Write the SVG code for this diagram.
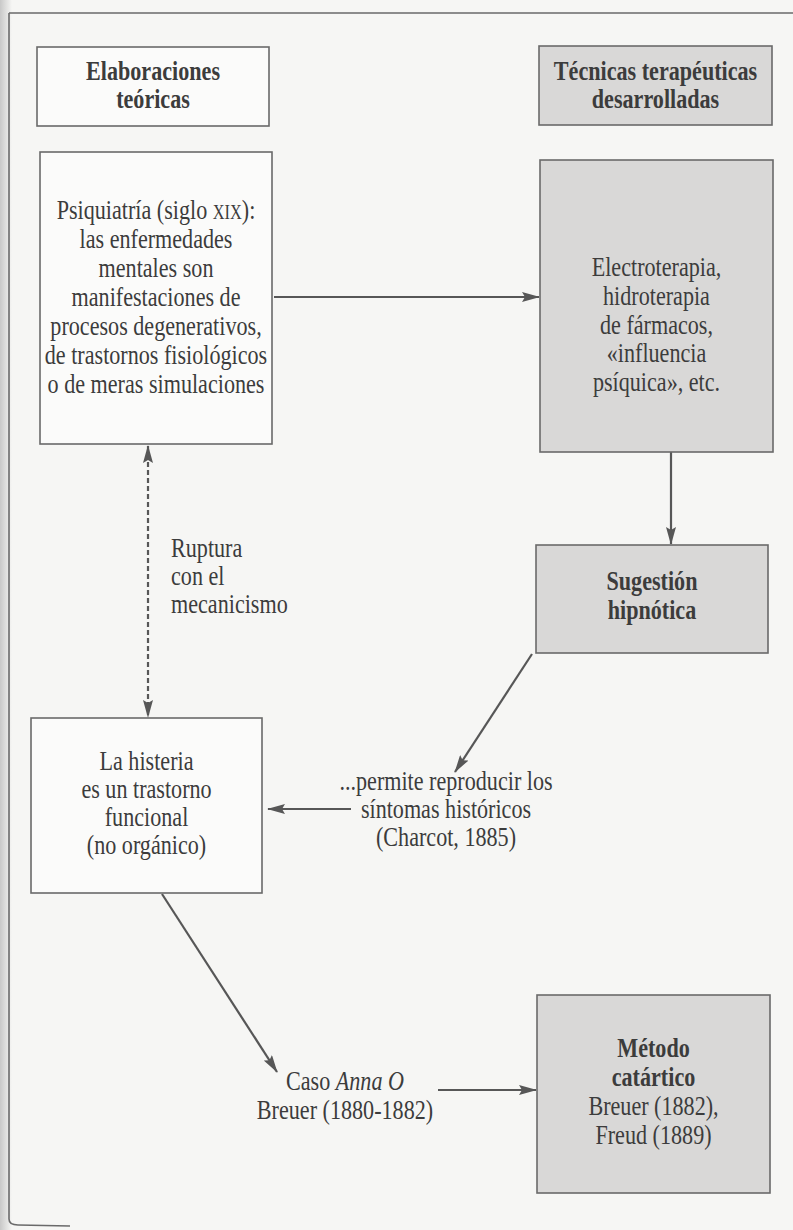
<svg xmlns="http://www.w3.org/2000/svg" width="793" height="1230" viewBox="0 0 793 1230">
<defs>
<style>
.bg{fill:#f6f6f4}
.box{fill:#fbfbfa;stroke:#6a6a6a;stroke-width:1.6}
.gbox{fill:#d9d8d7;stroke:#6a6a6a;stroke-width:1.6}
.t{font-family:"Liberation Serif","Times New Roman","DejaVu Serif",serif;font-size:27px;fill:#3c3c3c;text-anchor:middle}
.b{font-weight:bold}
.i{font-style:italic}
.l{text-anchor:start}
.c{stroke:#575757;stroke-width:2.2;fill:none}
.d{stroke-dasharray:5 3}
.frame{stroke:#6a6a6a;stroke-width:1.6;fill:none}
</style>
<marker id="ah" viewBox="0 0 18 10" refX="17" refY="5" markerWidth="18" markerHeight="10" markerUnits="userSpaceOnUse" orient="auto-start-reverse">
<path d="M0,0 L18,5 L0,10 L3,5 Z" fill="#575757"/>
</marker>
<linearGradient id="shade" x1="0" y1="0" x2="1" y2="0">
<stop offset="0" stop-color="#bdbdbd" stop-opacity="0.8"/>
<stop offset="1" stop-color="#bdbdbd" stop-opacity="0"/>
</linearGradient>
</defs>
<rect class="bg" x="0" y="0" width="793" height="1230"/>
<rect x="0" y="0" width="12" height="1230" fill="url(#shade)"/>
<path class="frame" d="M9,13 L793,13 M9,13 L9,1219 Q9,1225 18,1225 L70,1226"/>

<g id="connectors">
<line class="c" x1="274" y1="297" x2="539" y2="297" marker-end="url(#ah)"/>
<line class="c" x1="671" y1="452" x2="671" y2="544" marker-end="url(#ah)"/>
<line class="c d" x1="148" y1="446" x2="148" y2="717" marker-start="url(#ah)" marker-end="url(#ah)"/>
<line class="c" x1="532" y1="654" x2="455" y2="772" marker-end="url(#ah)"/>
<line class="c" x1="351" y1="809" x2="268" y2="809" marker-end="url(#ah)"/>
<line class="c" x1="162" y1="894" x2="277" y2="1072" marker-end="url(#ah)"/>
<line class="c" x1="438" y1="1090" x2="536" y2="1090" marker-end="url(#ah)"/>
</g>

<g id="n-elaboraciones">
<rect class="box" x="37" y="47" width="232" height="79"/>
<g transform="translate(153 0) scale(0.82 1)">
<text class="t b" x="0" y="80">Elaboraciones</text>
<text class="t b" x="0" y="108">teóricas</text>
</g>
</g>

<g id="n-tecnicas">
<rect class="gbox" x="539" y="46" width="233" height="79"/>
<g transform="translate(655.5 0) scale(0.82 1)">
<text class="t b" x="0" y="80">Técnicas terapéuticas</text>
<text class="t b" x="0" y="108">desarrolladas</text>
</g>
</g>

<g id="n-psiquiatria">
<rect class="box" x="40" y="152" width="232" height="292"/>
<g transform="translate(156 0) scale(0.82 1)">
<text class="t" x="0" y="219">Psiquiatría (siglo <tspan style="font-size:20px">XIX</tspan>):</text>
<text class="t" x="0" y="248">las enfermedades</text>
<text class="t" x="0" y="277">mentales son</text>
<text class="t" x="0" y="306">manifestaciones de</text>
<text class="t" x="0" y="335">procesos degenerativos,</text>
<text class="t" x="0" y="364">de trastornos fisiológicos</text>
<text class="t" x="0" y="393">o de meras simulaciones</text>
</g>
</g>

<g id="n-electroterapia">
<rect class="gbox" x="540" y="160" width="233" height="292"/>
<g transform="translate(656.5 0) scale(0.82 1)">
<text class="t" x="0" y="276">Electroterapia,</text>
<text class="t" x="0" y="305">hidroterapia</text>
<text class="t" x="0" y="334">de fármacos,</text>
<text class="t" x="0" y="362">«influencia</text>
<text class="t" x="0" y="391">psíquica», etc.</text>
</g>
</g>

<g id="n-sugestion">
<rect class="gbox" x="536" y="545" width="232" height="108"/>
<g transform="translate(652 0) scale(0.82 1)">
<text class="t b" x="0" y="590">Sugestión</text>
<text class="t b" x="0" y="619">hipnótica</text>
</g>
</g>

<g id="n-ruptura">
<g transform="translate(171 0) scale(0.82 1)">
<text class="t l" x="0" y="557">Ruptura</text>
<text class="t l" x="0" y="585">con el</text>
<text class="t l" x="0" y="613">mecanicismo</text>
</g>
</g>

<g id="n-histeria">
<rect class="box" x="31" y="718" width="231" height="175"/>
<g transform="translate(146.5 0) scale(0.82 1)">
<text class="t" x="0" y="770">La histeria</text>
<text class="t" x="0" y="798">es un trastorno</text>
<text class="t" x="0" y="826">funcional</text>
<text class="t" x="0" y="854">(no orgánico)</text>
</g>
</g>

<g id="n-permite">
<g transform="translate(446 0) scale(0.82 1)">
<text class="t" x="0" y="790">...permite reproducir los</text>
<text class="t" x="0" y="818">síntomas históricos</text>
<text class="t" x="0" y="846">(Charcot, 1885)</text>
</g>
</g>

<g id="n-caso">
<g transform="translate(345 0) scale(0.82 1)">
<text class="t" x="0" y="1090">Caso <tspan class="i">Anna O</tspan></text>
<text class="t" x="0" y="1119">Breuer (1880-1882)</text>
</g>
</g>

<g id="n-metodo">
<rect class="gbox" x="537" y="995" width="233" height="198"/>
<g transform="translate(653.5 0) scale(0.82 1)">
<text class="t b" x="0" y="1057">Método</text>
<text class="t b" x="0" y="1086">catártico</text>
<text class="t" x="0" y="1115">Breuer (1882),</text>
<text class="t" x="0" y="1144">Freud (1889)</text>
</g>
</g>
</svg>
